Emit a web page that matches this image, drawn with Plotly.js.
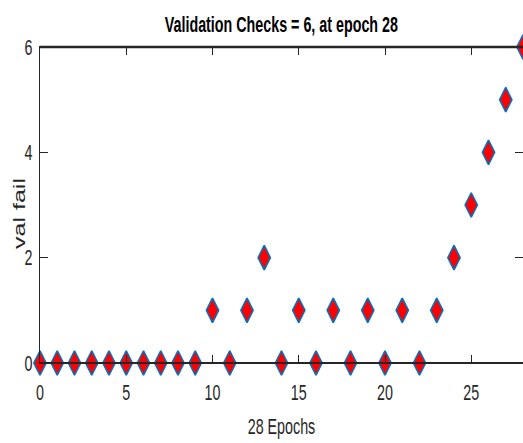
<!DOCTYPE html>
<html><head><meta charset="utf-8">
<script src="https://cdn.plot.ly/plotly-3.0.1.min.js"></script>
<style>
html,body{margin:0;padding:0;background:#fff}
#c{width:523px;height:443px}
#c g.g-gtitle, #c g.g-xtitle, #c g.annotation, #c g.xtick, #c g.ytick {
  transform-box: fill-box; transform-origin: center; transform: scaleX(0.65);
}
</style>
</head><body><div id="c"></div>
<script>
var epochs = [0,1,2,3,4,5,6,7,8,9,10,11,12,13,14,15,16,17,18,19,20,21,22,23,24,25,26,27,28];
var valFail = [0,0,0,0,0,0,0,0,0,0,1,0,1,2,0,1,0,1,0,1,0,1,0,1,2,3,4,5,6];
var xTicks = [0,5,10,15,20,25];
var yTicks = [0,2,4,6];
var fam = '"Liberation Sans", Arial, Helvetica, sans-serif';
Plotly.newPlot('c', [{
  x: epochs, y: valFail, type: 'scatter', mode: 'markers', cliponaxis: false,
  marker: {symbol: 'diamond-tall', size: 17.5, color: '#ff0000', line: {color: '#0072BD', width: 1.6}}
}], {
  width: 523, height: 443,
  margin: {l: 40, r: 0, t: 47, b: 80},
  paper_bgcolor: '#fff', plot_bgcolor: '#fff',
  showlegend: false,
  title: {text: '<b>Validation Checks = 6, at epoch 28</b>', x: 0.538, xanchor: 'center', y: 0.945, yanchor: 'middle',
          font: {family: fam, size: 22, color: '#000'}},
  xaxis: {range: [0, 28], tickvals: xTicks, ticks: 'inside', ticklen: 8, tickcolor: '#262626',
          showline: true, linecolor: '#262626', linewidth: 1, mirror: 'ticks', showgrid: false, zeroline: false,
          ticklabelstandoff: 10,
          tickfont: {family: fam, size: 22, color: '#262626'},
          title: {text: '28 Epochs', font: {family: fam, size: 22, color: '#262626'}, standoff: 14}},
  yaxis: {range: [0, 6], tickvals: yTicks, ticks: 'inside', ticklen: 8, tickcolor: '#262626',
          showline: true, linecolor: '#262626', linewidth: 1, mirror: 'ticks', showgrid: false, zeroline: false,
          tickfont: {family: fam, size: 22, color: '#262626'}},
  annotations: [{text: 'val fail', xref: 'paper', yref: 'paper', x: -0.0435, y: 0.475, xanchor: 'center', yanchor: 'middle',
                 textangle: -90, showarrow: false, font: {family: fam, size: 25, color: '#262626'}}],
  shapes: [
    {type: 'line', xref: 'paper', yref: 'paper', x0: 0, x1: 1, y0: 1, y1: 1, line: {color: '#262626', width: 2.5}},
    {type: 'line', xref: 'paper', yref: 'paper', x0: 0, x1: 1, y0: 0, y1: 0, line: {color: '#262626', width: 2}}
  ]
}, {displayModeBar: false, staticPlot: true});
</script></body></html>
